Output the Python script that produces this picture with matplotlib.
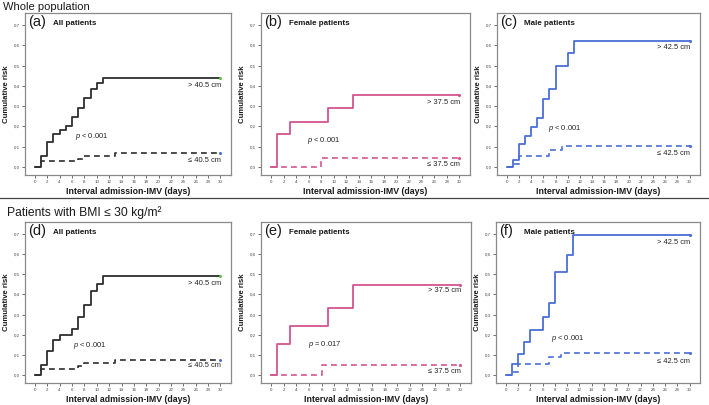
import matplotlib
matplotlib.use("Agg")
import matplotlib.pyplot as plt
from matplotlib.lines import Line2D

plt.rcParams['font.family'] = ['Liberation Sans', 'DejaVu Sans']
plt.rcParams['mathtext.fontset'] = 'custom'
plt.rcParams['mathtext.it'] = 'Liberation Sans:italic'
plt.rcParams['mathtext.rm'] = 'Liberation Sans'

# ---------------- data ----------------
xticks = list(range(0, 31, 2))
yticks = [0.0, 0.1, 0.2, 0.3, 0.4, 0.5, 0.6, 0.7]
ytick_labels = ["0,0", "0,1", "0,2", "0,3", "0,4", "0,5", "0,6", "0,7"]

panel_letters = ["(a)", "(b)", "(c)", "(d)", "(e)", "(f)"]
panel_titles = ["All patients", "Female patients", "Male patients",
                "All patients", "Female patients", "Male patients"]
hi_labels = ["> 40.5 cm", "> 37.5 cm", "> 42.5 cm", "> 40.5 cm", "> 37.5 cm", "> 42.5 cm"]
lo_labels = ["≤ 40.5 cm", "≤ 37.5 cm", "≤ 42.5 cm", "≤ 40.5 cm", "≤ 37.5 cm", "≤ 42.5 cm"]
p_labels = ["< 0.001", "< 0.001", "< 0.001", "< 0.001", "= 0.017", "< 0.001"]

a_hi_t = [0, 1, 2, 3, 4, 5, 6, 7, 8, 9, 10, 11, 30]
a_hi_y = [0, 0.053, 0.125, 0.164, 0.184, 0.204, 0.248, 0.292, 0.338, 0.386, 0.416, 0.44, 0.44]
a_lo_t = [0, 1, 7, 8, 13, 30]
a_lo_y = [0, 0.027, 0.041, 0.056, 0.071, 0.071]

b_hi_t = [0, 1, 3, 9, 13, 30]
b_hi_y = [0, 0.16, 0.222, 0.289, 0.356, 0.356]
b_lo_t = [0, 8, 30]
b_lo_y = [0, 0.046, 0.046]

c_hi_t = [0, 1, 2, 3, 4, 5, 6, 7, 8, 10, 11, 30]
c_hi_y = [0, 0.036, 0.114, 0.155, 0.197, 0.243, 0.336, 0.387, 0.498, 0.56, 0.623, 0.623]
c_lo_t = [0, 1, 2, 7, 9, 30]
c_lo_y = [0, 0.016, 0.052, 0.085, 0.103, 0.103]

d_hi_t = [0, 1, 2, 3, 4, 6, 7, 8, 9, 10, 11, 30]
d_hi_y = [0, 0.05, 0.12, 0.175, 0.2, 0.23, 0.29, 0.35, 0.415, 0.45, 0.49, 0.49]
d_lo_t = [0, 1, 7, 8, 13, 30]
d_lo_y = [0, 0.03, 0.045, 0.058, 0.073, 0.073]

e_hi_t = [0, 1, 3, 9, 13, 30]
e_hi_y = [0, 0.155, 0.245, 0.335, 0.445, 0.445]
e_lo_t = [0, 8, 30]
e_lo_y = [0, 0.05, 0.05]

f_hi_t = [0, 1, 2, 3, 4, 6, 7, 8, 10, 11, 30]
f_hi_y = [0, 0.053, 0.105, 0.165, 0.224, 0.288, 0.358, 0.511, 0.597, 0.693, 0.693]
f_lo_t = [0, 1, 2, 7, 9, 30]
f_lo_y = [0, 0.016, 0.053, 0.088, 0.109, 0.109]

# label positions (data coords)
hi_label_y = [0.404, 0.32, 0.59, 0.455, 0.42, 0.66]
lo_label_y = [0.03, 0.013, 0.067, 0.045, 0.017, 0.069]
p_label_xy = [(6.5, 0.15), (5.7, 0.13), (6.8, 0.188), (6.1, 0.148), (5.9, 0.152), (7.4, 0.182)]

# ---------------- style ----------------
BLACK = "#2e2e2e"
PINK = "#d4558f"
BLUE = "#4a6ed4"
GREEN = "#5dc24a"
line_colors = [BLACK, PINK, BLUE, BLACK, PINK, BLUE]
hi_end_colors = [GREEN, PINK, BLUE, GREEN, PINK, BLUE]
lo_end_colors = [BLUE, PINK, BLUE, BLUE, PINK, BLUE]

W, H = 709, 405
fig = plt.figure(figsize=(W / 100, H / 100), dpi=100)

# pixel boxes: left, right, top, bottom
boxes = [(25, 231, 13, 175), (261, 470, 13, 175), (497, 700, 13, 175),
         (25, 231, 222, 383), (261, 471, 222, 383), (496, 700, 222, 383)]

data = [(a_hi_t, a_hi_y, a_lo_t, a_lo_y), (b_hi_t, b_hi_y, b_lo_t, b_lo_y),
        (c_hi_t, c_hi_y, c_lo_t, c_lo_y), (d_hi_t, d_hi_y, d_lo_t, d_lo_y),
        (e_hi_t, e_hi_y, e_lo_t, e_lo_y), (f_hi_t, f_hi_y, f_lo_t, f_lo_y)]

for i, (l, r, t, b) in enumerate(boxes):
    ax = fig.add_axes([l / W, 1 - b / H, (r - l) / W, (b - t) / H])
    hi_t, hi_y, lo_t, lo_y = data[i]
    c = line_colors[i]
    ax.step(lo_t, lo_y, where='post', color=c, lw=1.2, ls=(0, (3.5, 2.5)))
    ax.step(hi_t, hi_y, where='post', color=c, lw=1.3)
    ax.plot([hi_t[-1]], [hi_y[-1]], 'o', ms=2.2, color=hi_end_colors[i], mec='none')
    ax.plot([lo_t[-1]], [lo_y[-1]], 'o', ms=2.2, color=lo_end_colors[i], mec='none')
    ax.set_xlim(-1.6, 31.7)
    ax.set_ylim(-0.04, 0.76)
    ax.set_xticks(xticks)
    ax.set_xticklabels([str(v) for v in xticks])
    ax.set_yticks(yticks)
    ax.set_yticklabels(ytick_labels)
    ax.tick_params(axis='both', labelsize=3.2, length=2, width=0.6, pad=1.5,
                   colors="#555555", labelcolor="#444444")
    for s in ax.spines.values():
        s.set_color("#8a8a8a")
        s.set_linewidth(0.9)
    ax.set_xlabel("Interval admission-IMV (days)", fontsize=6.3, fontweight='bold',
                  labelpad=2.5, color="#1a1a1a")
    ax.set_ylabel("Cumulative risk", fontsize=5.6, fontweight='bold',
                  labelpad=3, color="#1a1a1a")
    ax.text(0.015, 0.985, panel_letters[i], transform=ax.transAxes, fontsize=10.5,
            va='top', ha='left', color="#1a1a1a")
    ax.text(0.135, 0.955, panel_titles[i], transform=ax.transAxes, fontsize=5.8,
            fontweight='bold', va='top', ha='left', color="#1a1a1a")
    ax.text(30.1, hi_label_y[i], hi_labels[i], fontsize=5.4, ha='right', va='center',
            color="#222222")
    ax.text(30.1, lo_label_y[i], lo_labels[i], fontsize=5.4, ha='right', va='center',
            color="#222222")
    px, py = p_label_xy[i]
    ax.text(px, py, r"$p$ " + p_labels[i], fontsize=5.4, ha='left', va='center',
            color="#222222")

fig.text(3 / W, 1 - 6.5 / H, "Whole population", fontsize=8, va='center', ha='left',
         color="#1a1a1a")
fig.text(7 / W, 1 - 213 / H, "Patients with BMI ≤ 30 kg/m²", fontsize=8.7, va='center',
         ha='left', color="#1a1a1a")
fig.add_artist(Line2D([0, 1], [1 - 198 / H, 1 - 198 / H], color="#444444", lw=0.9,
                      transform=fig.transFigure))

fig.savefig("out.png", dpi=100)
